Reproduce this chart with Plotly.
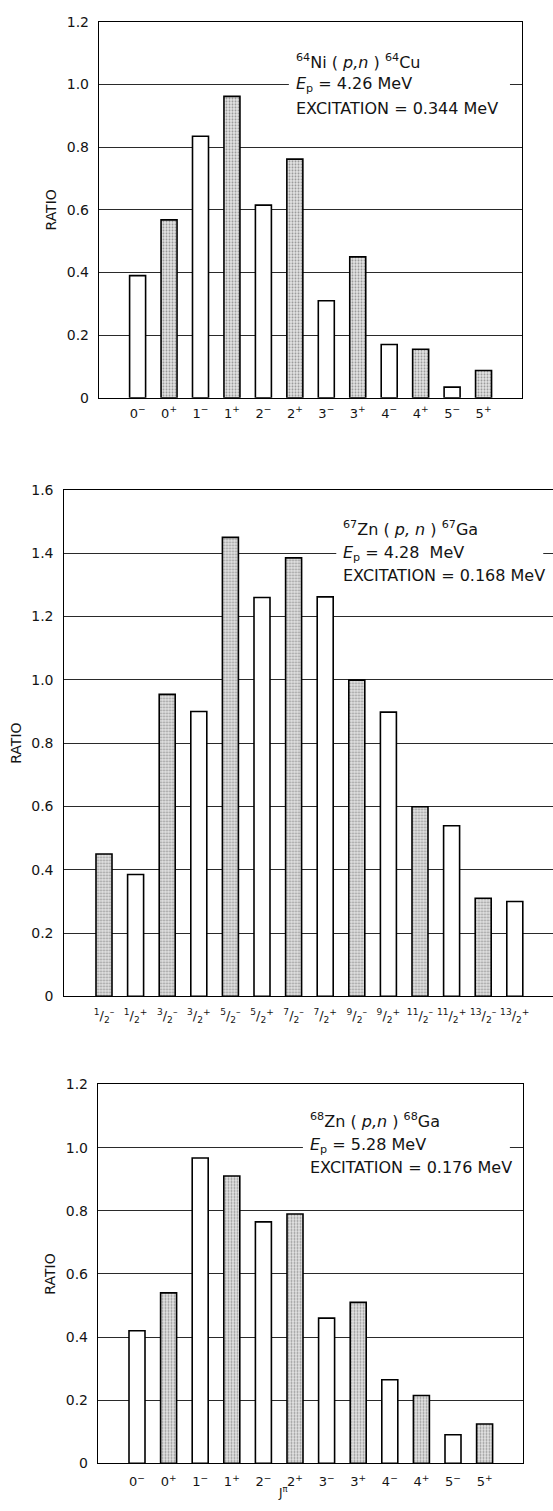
import plotly.graph_objects as go

# ---- data -------------------------------------------------------------
ni64_states = ["0-", "0+", "1-", "1+", "2-", "2+", "3-", "3+", "4-", "4+", "5-", "5+"]
ni64_ratio = [0.39, 0.568, 0.835, 0.962, 0.615, 0.762, 0.31, 0.45, 0.17, 0.155, 0.034, 0.087]

zn67_states = ["1/2-", "1/2+", "3/2-", "3/2+", "5/2-", "5/2+", "7/2-", "7/2+",
               "9/2-", "9/2+", "11/2-", "11/2+", "13/2-", "13/2+"]
zn67_ratio = [0.45, 0.385, 0.954, 0.90, 1.45, 1.26, 1.385, 1.262,
              0.999, 0.898, 0.599, 0.539, 0.31, 0.30]

zn68_states = ["0-", "0+", "1-", "1+", "2-", "2+", "3-", "3+", "4-", "4+", "5-", "5+"]
zn68_ratio = [0.42, 0.54, 0.967, 0.91, 0.765, 0.79, 0.46, 0.51, 0.265, 0.215, 0.091, 0.125]

W, H = 553, 1511
FONT = "DejaVu Sans"
INK = "#141414"
MINUS = "\u2212"


def spin_label(s):
    """'5/2-' -> slashed fraction with parity superscript; '3+' -> 3 with superscript."""
    j = s[:-1]
    if "/" in j:
        num, den = j.split("/")
        sign = "+" if s.endswith("+") else "\u2013"
        return f"<sup>{num}</sup>/<sub>{den}</sub><sup>{sign}</sup>"
    sign = "+" if s.endswith("+") else MINUS
    return f"{j}<sup>{sign}</sup>"


def bar_trace(states, values, parity, xa, ya, width, dark_index=None):
    shapes, fg, bg, colors = [], [], [], []
    for i, s in enumerate(states):
        if s.endswith(parity):
            shapes.append(".")
            if i == dark_index:
                fg.append("#111111"); bg.append("#7c7c7c")
            else:
                fg.append("#5a5a5a"); bg.append("#e4e4e4")
            colors.append("#e4e4e4")
        else:
            shapes.append("")
            fg.append("#000000"); bg.append("#ffffff")
            colors.append("#ffffff")
    return go.Bar(
        x=list(range(len(states))), y=values, width=width,
        marker=dict(color=colors, line=dict(color="#000000", width=1.6),
                    pattern=dict(shape=shapes, fgcolor=fg, bgcolor=bg,
                                 size=3, solidity=0.35, fillmode="overlay")),
        xaxis=xa, yaxis=ya, showlegend=False, hoverinfo="skip",
    )


# panel geometry in page pixels: plot-area edges, first-bar centre and bar pitch
geom = [
    dict(x0=99, x1=522, ytop=14, ybot=394, ymax=1.2, c0=137.6, step=31.45, right=True,
         xfont=13, xstand=3),
    dict(x0=63.5, x1=553, ytop=487, ybot=999, ymax=1.6, c0=104.0, step=31.6, right=False,
         xfont=13, xstand=7),
    dict(x0=98, x1=523, ytop=1088, ybot=1471, ymax=1.2, c0=137.0, step=31.6, right=True,
         xfont=13, xstand=6),
]
BAR_PX = 16

fig = go.Figure()
fig.add_trace(bar_trace(ni64_states, ni64_ratio, "+", "x", "y", BAR_PX / geom[0]["step"]))
fig.add_trace(bar_trace(zn67_states, zn67_ratio, "-", "x2", "y2", BAR_PX / geom[1]["step"]))
fig.add_trace(bar_trace(zn68_states, zn68_ratio, "+", "x3", "y3", BAR_PX / geom[2]["step"],
                        dark_index=1))


def yticks(top):
    vals = [round(0.2 * k, 1) for k in range(int(round(top / 0.2)) + 1)]
    text = ["0" if v == 0 else f"{v:.1f}" for v in vals]
    return vals, text


axis_common = dict(showline=True, linecolor="#000000", linewidth=1.4, zeroline=False,
                   fixedrange=True)

layout = dict(width=W, height=H, margin=dict(l=0, r=0, t=0, b=0),
              paper_bgcolor="#ffffff", plot_bgcolor="#ffffff",
              font=dict(family=FONT, color=INK))

all_states = [ni64_states, zn67_states, zn68_states]
for i, g in enumerate(geom):
    suffix = "" if i == 0 else str(i + 1)
    states = all_states[i]
    xr = [(g["x0"] - g["c0"]) / g["step"], (g["x1"] - g["c0"]) / g["step"]]
    tv, tt = yticks(g["ymax"])
    layout["xaxis" + suffix] = dict(
        axis_common, domain=[g["x0"] / W, min(g["x1"] / W, 1.0)], range=xr,
        anchor="y" + suffix, tickvals=list(range(len(states))),
        ticktext=[spin_label(s) for s in states],
        tickfont=dict(family=FONT, size=g["xfont"], color=INK),
        tickangle=0, showgrid=False, mirror=True, ticks="",
        ticklabelstandoff=g["xstand"])
    layout["yaxis" + suffix] = dict(
        axis_common, domain=[1 - g["ybot"] / H, 1 - g["ytop"] / H], range=[0, g["ymax"]],
        anchor="x" + suffix, tickvals=tv, ticktext=tt,
        tickfont=dict(family=FONT, size=14, color=INK),
        showgrid=True, gridcolor="#2a2a2a", gridwidth=1,
        mirror=g["right"], ticks="", ticklabelstandoff=6,
        title=dict(text="RATIO", font=dict(family=FONT, size=14, color=INK), standoff=6))

fig.update_layout(**layout)

# J^pi label under the lowest panel
fig.add_annotation(xref="paper", yref="paper", x=283 / W, y=0,
                   xanchor="center", yanchor="bottom", yshift=1,
                   text="J<sup>\u03c0</sup>", showarrow=False,
                   font=dict(family=FONT, size=12, color=INK))

# reaction captions; a white panel behind each caption interrupts the grid
ann_font = dict(family=FONT, size=16, color=INK)
notes = [
    ("x", "y", 4.97, (4.81, 11.84), [(1.072, "<sup>64</sup>Ni ( <i>p,n</i> ) <sup>64</sup>Cu"),
                                     (1.0, "<i>E</i><sub>p</sub> = 4.26 MeV"),
                                     (0.925, "EXCITATION = 0.344 MeV")]),
    ("x2", "y2", 7.5, (7.35, 13.9), [(1.478, "<sup>67</sup>Zn ( <i>p, n</i> ) <sup>67</sup>Ga"),
                                     (1.40, "<i>E</i><sub>p</sub> = 4.28  MeV"),
                                     (1.33, "EXCITATION = 0.168 MeV")]),
    ("x3", "y3", 5.41, (5.25, 11.8), [(1.085, "<sup>68</sup>Zn ( <i>p,n</i> ) <sup>68</sup>Ga"),
                                      (1.006, "<i>E</i><sub>p</sub> = 5.28 MeV"),
                                      (0.938, "EXCITATION = 0.176 MeV")]),
]
for xr_, yr_, x0, (bx0, bx1), lines in notes:
    ys = [y for y, _ in lines]
    fig.add_shape(type="rect", xref=xr_, yref=yr_, x0=bx0, x1=bx1,
                  y0=min(ys) - 0.04, y1=max(ys) + 0.05,
                  fillcolor="#ffffff", line=dict(width=0), layer="between")
    for yv, txt in lines:
        fig.add_annotation(xref=xr_, yref=yr_, x=x0, y=yv, text=txt, showarrow=False,
                           xanchor="left", yanchor="middle", align="left", font=ann_font)

fig.write_html("out.html")
